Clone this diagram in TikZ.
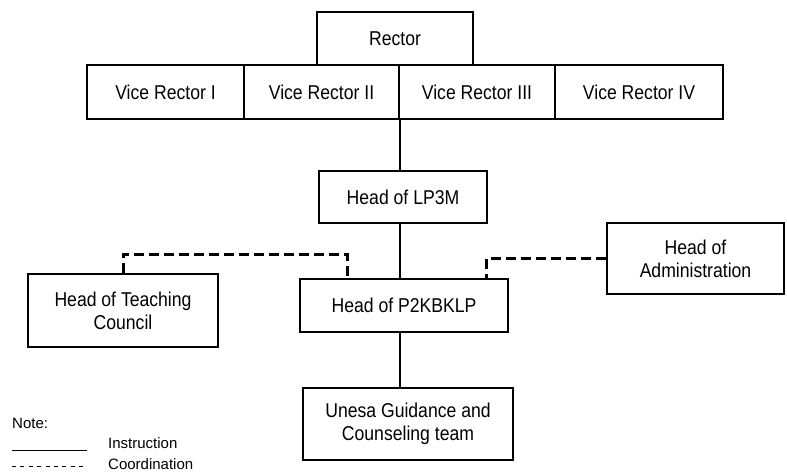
\documentclass[tikz,border=0pt]{standalone}
\usepackage{fontspec}
\setmainfont[FakeStretch=0.88]{Liberation Sans}
\newfontfamily\legendfont{Liberation Sans}
\usetikzlibrary{calc}
\tikzset{
  box/.style={draw, line width=1.8pt, inner sep=0pt, align=center,
    font=\fontsize{20}{23}\selectfont},
  conn/.style={line width=2.8pt},
  coordline/.style={line width=3pt, dash pattern=on 10pt off 5pt},
  legend/.style={anchor=base west, inner sep=0pt, font=\legendfont\fontsize{15}{17}\selectfont}
}
\begin{document}
\begin{tikzpicture}[x=1pt,y=-1pt]
\useasboundingbox (0,0) rectangle (787,473);
% top
\node[box, minimum width=156pt, minimum height=53pt] (rector) at (395,38.5) {Rector};
\node[box, minimum width=157pt, minimum height=54pt] (vr1) at (165.5,92) {Vice Rector I};
\node[box, minimum width=155pt, minimum height=54pt] (vr2) at (321.5,92) {Vice Rector II};
\node[box, minimum width=156pt, minimum height=54pt] (vr3) at (477,92) {Vice Rector III};
\node[box, minimum width=168pt, minimum height=54pt] (vr4) at (639,92) {Vice Rector IV};
% middle
\node[box, minimum width=168pt, minimum height=52pt] (lp3m) at (403,197) {Head of LP3M};
\node[box, minimum width=208pt, minimum height=53pt] (p2k) at (404,305.5) {Head of P2KBKLP};
\node[box, minimum width=210pt, minimum height=72pt] (unesa) at (408,424) {Unesa Guidance and\\Counseling team};
\node[box, minimum width=190pt, minimum height=73pt] (teach) at (123,310.5) {Head of Teaching\\Council};
\node[box, minimum width=177pt, minimum height=71pt] (admin) at (695.5,258.5) {Head of\\Administration};
% instruction lines
\coordinate (spine) at (400,0);
\draw[conn] (spine |- vr3.south) -- (spine |- lp3m.north);
\draw[conn] (spine |- lp3m.south) -- (spine |- p2k.north);
\draw[conn] (spine |- p2k.south) -- (spine |- unesa.north);
% coordination lines
\coordinate (dl) at ($(p2k.north west)+(48,0)$);
\coordinate (dr) at ($(p2k.north east)+(-22,0)$);
\draw[coordline] (teach.north) -- ++(0,-19) -| (dl);
\draw[coordline] (admin.west) -| (dr);
% legend
\node[legend] (note) at (12,428) {Note:};
\node[legend] (instr) at (108,448) {Instruction};
\node[legend] (coord) at (108,469.5) {Coordination};
\coordinate (ls1) at (12,450);
\coordinate (ls2) at (87,450);
\coordinate (ld1) at (12,466);
\coordinate (ld2) at (87,466);
\draw[line width=0.9pt] (ls1) -- (ls2);
\draw[line width=0.9pt, dash pattern=on 4pt off 4.4pt] (ld1) -- (ld2);
\end{tikzpicture}
\end{document}
